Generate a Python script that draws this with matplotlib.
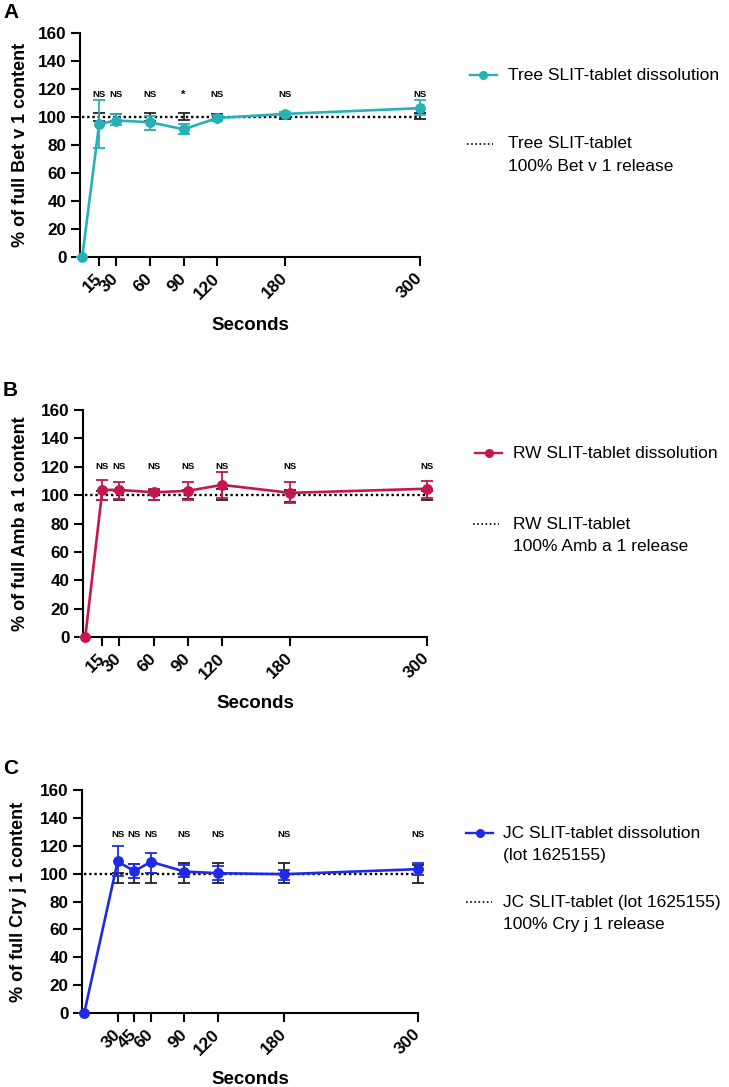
import matplotlib
matplotlib.use("Agg")
import matplotlib.pyplot as plt
from matplotlib.lines import Line2D

plt.rcParams['font.family'] = ['Liberation Sans', 'DejaVu Sans']

W, H = 729, 1087

# ---------------- data ----------------
# Panel A: Tree SLIT-tablet (Bet v 1)
tree_x = [0, 15, 30, 60, 90, 120, 180, 300]
tree_y = [0, 95.0, 97.5, 96.3, 91.2, 99.3, 102.2, 106.3]
tree_lo = [0, 77.6, 94.0, 91.0, 88.0, 97.0, 100.5, 101.5]
tree_hi = [0, 112.4, 101.8, 100.5, 94.8, 101.5, 103.8, 112.0]
tree_ref_lo = [97.5, 97.5, 97.5, 98.2, 98.0, 98.4, 98.4]
tree_ref_hi = [102.6, 102.4, 102.6, 102.6, 102.0, 102.2, 102.9]
tree_ticks = [15, 30, 60, 90, 120, 180, 300]
tree_sig = ['NS', 'NS', 'NS', '*', 'NS', 'NS', 'NS']

# Panel B: RW SLIT-tablet (Amb a 1)
rw_x = [0, 15, 30, 60, 90, 120, 180, 300]
rw_y = [0, 103.7, 103.7, 102.0, 103.0, 107.2, 101.6, 104.5]
rw_lo = [0, 96.5, 97.2, 96.8, 96.8, 98.0, 94.3, 98.3]
rw_hi = [0, 111.0, 109.6, 104.5, 109.6, 116.0, 109.0, 110.3]
rw_ref_lo = [96.5, 96.8, 96.5, 97.0, 96.5, 95.5, 96.5]
rw_ref_hi = [103.0, 103.0, 103.5, 103.5, 104.0, 103.5, 103.0]
rw_ticks = [15, 30, 60, 90, 120, 180, 300]
rw_sig = ['NS'] * 7

# Panel C: JC SLIT-tablet (Cry j 1)
jc_x = [0, 30, 45, 60, 90, 120, 180, 300]
jc_y = [0, 108.7, 101.8, 108.5, 101.5, 100.3, 99.6, 103.2]
jc_lo = [0, 98.6, 97.0, 100.5, 97.5, 95.3, 95.6, 98.8]
jc_hi = [0, 119.5, 106.7, 115.0, 106.0, 105.5, 102.5, 107.9]
jc_ref_lo = [93.1, 93.1, 93.1, 93.1, 93.1, 93.1, 93.1]
jc_ref_hi = [100.5, 107.2, 100.5, 107.4, 107.4, 107.4, 106.5]
jc_ticks = [30, 45, 60, 90, 120, 180, 300]
jc_sig = ['NS'] * 7

panels = [
    dict(letter='A', x=tree_x, y=tree_y, lo=tree_lo, hi=tree_hi,
         rlo=tree_ref_lo, rhi=tree_ref_hi, ticks=tree_ticks, sig=tree_sig,
         color='#27B0B6', ylabel='% of full Bet v 1 content',
         leg1=['Tree SLIT-tablet dissolution'],
         leg2=['Tree SLIT-tablet', '100% Bet v 1 release'],
         ax_px=(80, 420, 33, 257), sig_y=116, letter_y=12,
         xlab_y=325, ylab_x=29,
         leg1_px=(470, 508, 75), leg2_px=(467, 508, 144)),
    dict(letter='B', x=rw_x, y=rw_y, lo=rw_lo, hi=rw_hi,
         rlo=rw_ref_lo, rhi=rw_ref_hi, ticks=rw_ticks, sig=rw_sig,
         color='#C5164D', ylabel='% of full Amb a 1 content',
         leg1=['RW SLIT-tablet dissolution'],
         leg2=['RW SLIT-tablet', '100% Amb a 1 release'],
         ax_px=(83, 427, 410, 637), sig_y=120.5, letter_y=391,
         xlab_y=703, ylab_x=29,
         leg1_px=(475, 513, 453), leg2_px=(473, 513, 524)),
    dict(letter='C', x=jc_x, y=jc_y, lo=jc_lo, hi=jc_hi,
         rlo=jc_ref_lo, rhi=jc_ref_hi, ticks=jc_ticks, sig=jc_sig,
         color='#1E2BE6', ylabel='% of full Cry j 1 content',
         leg1=['JC SLIT-tablet dissolution', '(lot 1625155)'],
         leg2=['JC SLIT-tablet (lot 1625155)', '100% Cry j 1 release'],
         ax_px=(82, 418, 790, 1013), sig_y=128.4, letter_y=769,
         xlab_y=1079, ylab_x=27,
         leg1_px=(466, 503, 833), leg2_px=(466, 503, 902)),
]

fig = plt.figure(figsize=(W / 100, H / 100), dpi=100)


def fx(px):
    return px / W


def fy(py):
    return 1 - py / H


for p in panels:
    l, r, t, b = p['ax_px']
    ax = fig.add_axes([fx(l), fy(b), (r - l) / W, (b - t) / H])
    c = p['color']
    xs, ys = p['x'], p['y']
    # reference (100% release) error bars, black
    rx = xs[1:]
    ax.errorbar(rx, [100] * len(rx),
                yerr=[[100 - v for v in p['rlo']], [v - 100 for v in p['rhi']]],
                fmt='none', ecolor='#222222', elinewidth=1.3, capsize=4,
                capthick=1.3, clip_on=False, zorder=2)
    ax.plot([0, 300], [100, 100], color='black', lw=1.7,
            linestyle=(0, (1, 1.2)), zorder=3, clip_on=False)
    # series error bars
    ax.errorbar(xs, ys,
                yerr=[[y - lo for y, lo in zip(ys, p['lo'])],
                      [hi - y for y, hi in zip(ys, p['hi'])]],
                fmt='none', ecolor=c, elinewidth=1.3, capsize=4, capthick=1.3,
                clip_on=False, zorder=4)
    ax.plot(xs, ys, color=c, lw=1.9, marker='o', markersize=6.8,
            clip_on=False, zorder=5)
    # significance labels
    for xv, s in zip(p['ticks'], p['sig']):
        ax.text(xv, p['sig_y'], s, ha='center', va='center',
                fontsize=6.8 if s == 'NS' else 8, fontweight='bold')

    ax.set_xlim(-2, 300)
    ax.set_ylim(0, 160)
    ax.set_yticks(range(0, 161, 20))
    ax.set_xticks(p['ticks'])
    ax.set_xticklabels([str(v) for v in p['ticks']], rotation=45,
                       ha='right', va='center', rotation_mode='anchor',
                       fontsize=12.5, fontweight='bold')
    for lab in ax.get_yticklabels():
        lab.set_fontsize(12.3)
        lab.set_fontweight('bold')
    ax.tick_params(axis='both', length=6.5, width=1.5, direction='out', pad=3)
    ax.tick_params(axis='x', pad=7)
    for sp in ['top', 'right']:
        ax.spines[sp].set_visible(False)
    for sp in ['left', 'bottom']:
        ax.spines[sp].set_linewidth(1.5)

    ax.set_ylabel(p['ylabel'], fontsize=13, fontweight='bold')
    ax.yaxis.set_label_coords((p['ylab_x'] - l) / (r - l), 0.5)
    ax.set_xlabel('Seconds', fontsize=13.5, fontweight='bold')
    ax.xaxis.set_label_coords(0.5, (b - p['xlab_y']) / (b - t))
    ax.xaxis.label.set_va('center')

    # panel letter
    fig.text(fx(3), fy(p['letter_y']), p['letter'], fontsize=15,
             fontweight='bold', ha='left', va='center')

    # legend (manual)
    hx, tx, yy = p['leg1_px']
    fig.add_artist(Line2D([fx(hx), fx(hx + 27)], [fy(yy), fy(yy)], color=c,
                          lw=1.7, transform=fig.transFigure))
    fig.add_artist(Line2D([fx(hx + 13.5)], [fy(yy)], color=c, marker='o',
                          markersize=5.5, lw=0, transform=fig.transFigure))
    for i, line in enumerate(p['leg1']):
        fig.text(fx(tx), fy(yy + 22.5 * i), line, fontsize=12.5,
                 ha='left', va='center')
    hx, tx, yy = p['leg2_px']
    fig.add_artist(Line2D([fx(hx), fx(hx + 26)], [fy(yy), fy(yy)],
                          color='black', lw=1.2, linestyle=(0, (1, 1.5)),
                          transform=fig.transFigure))
    for i, line in enumerate(p['leg2']):
        fig.text(fx(tx), fy(yy + 22.5 * i), line, fontsize=12.5,
                 ha='left', va='center')

fig.savefig('out.png', dpi=100, facecolor='white')
